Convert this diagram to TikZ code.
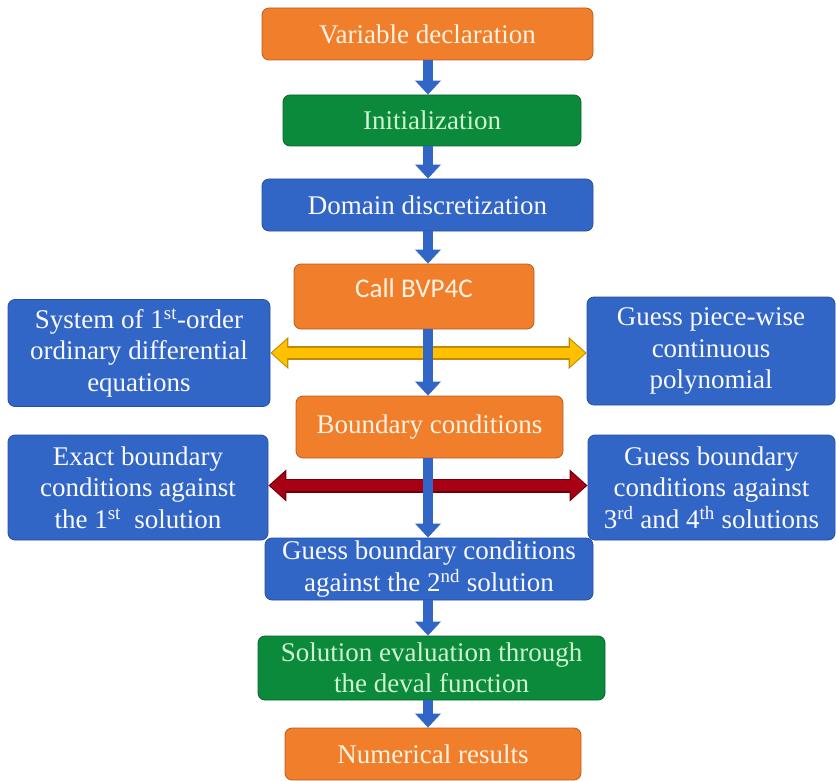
\documentclass[tikz,border=0pt]{standalone}
\usepackage{fontspec}
\setmainfont{Liberation Serif}
\newfontfamily\calfont{Carlito}
\usetikzlibrary{arrows.meta}
\definecolor{orfill}{HTML}{F07E2B}
\definecolor{ordraw}{HTML}{B95E20}
\definecolor{grfill}{HTML}{0C8A3B}
\definecolor{grdraw}{HTML}{07652B}
\definecolor{blfill}{HTML}{3165C6}
\definecolor{bldraw}{HTML}{27509E}
\definecolor{ortext}{HTML}{FFF4E4}
\definecolor{grtext}{HTML}{CFF3D0}
\definecolor{bltext}{HTML}{FAFAFF}
\definecolor{yelfill}{HTML}{FFC000}
\definecolor{yeldraw}{HTML}{C08A00}
\definecolor{redfill}{HTML}{A80014}
\definecolor{reddraw}{HTML}{6E0008}
\begin{document}
\begin{tikzpicture}[x=1pt,y=-1pt,
  box/.style={rounded corners=7pt, line width=0.8pt, align=center, inner sep=1pt,
    font=\fontsize{27}{31.5}\selectfont},
  obox/.style={box, fill=orfill, draw=ordraw, text=ortext},
  gbox/.style={box, fill=grfill, draw=grdraw, text=grtext},
  bbox/.style={box, fill=blfill, draw=bldraw, text=bltext},
  barrow/.style={draw=blfill, line width=10pt, -{Triangle[width=25pt,length=14pt]}},
  dout/.style={line width=14pt, {Triangle[width=31pt,length=18pt]}-{Triangle[width=31pt,length=18pt]}},
  din/.style={line width=10.5pt, shorten <=1.6pt, shorten >=1.6pt,
    {Triangle[width=26pt,length=15pt]}-{Triangle[width=26pt,length=15pt]}}
]
\useasboundingbox (0,0) rectangle (836,781);
\coordinate (ax) at (428,0);

\node[obox, minimum width=331pt, minimum height=52pt] (v1) at (427.5,34) {Variable declaration};
\node[gbox, minimum width=298pt, minimum height=51pt] (v2) at (432,120.5) {Initialization};
\node[bbox, minimum width=331pt, minimum height=52pt] (v3) at (427.5,205) {Domain discretization};
\node[obox, minimum width=240pt, minimum height=65pt, text depth=16pt, font=\calfont\fontsize{27}{31}\selectfont] (v4) at (414,296.5) {Call BVP4C};
\node[bbox, minimum width=262pt, minimum height=107pt] (v5) at (139,353) {System of 1\textsuperscript{st}-order\\ordinary differential\\equations};
\node[bbox, minimum width=248pt, minimum height=108pt] (v6) at (711,351) {Guess piece-wise\\continuous\\polynomial};
\node[obox, minimum width=267pt, minimum height=62pt] (v7) at (429.5,427) {Boundary conditions};
\node[bbox, minimum width=260pt, minimum height=105pt] (v8) at (138,487.5) {Exact boundary\\conditions against\\the 1\textsuperscript{st}\ \ solution};
\node[bbox, minimum width=247pt, minimum height=105pt] (v9) at (711.5,487.5) {Guess boundary\\conditions against\\3\textsuperscript{rd} and 4\textsuperscript{th} solutions};
\node[bbox, minimum width=328pt, minimum height=62pt] (v10) at (429,569) {Guess boundary conditions\\against the 2\textsuperscript{nd} solution};
\node[gbox, minimum width=347pt, minimum height=64pt] (v11) at (431.5,668) {Solution evaluation through\\the deval function};
\node[obox, minimum width=296pt, minimum height=52pt] (v12) at (433,754) {Numerical results};

% horizontal double arrows
\draw[dout, draw=yeldraw, fill=yeldraw] (v5.east) -- (v5.east -| v6.west);
\draw[din, draw=yelfill, fill=yelfill] (v5.east) -- (v5.east -| v6.west);
\draw[dout, draw=reddraw, fill=reddraw] ([yshift=2pt]v8.east) -- ([yshift=2pt]v8.east -| v9.west);
\draw[din, draw=redfill, fill=redfill] ([yshift=2pt]v8.east) -- ([yshift=2pt]v8.east -| v9.west);

% vertical flow arrows
\draw[barrow] (v1.south -| ax) -- (v2.north -| ax);
\draw[barrow] (v2.south -| ax) -- (v3.north -| ax);
\draw[barrow] (v3.south -| ax) -- (v4.north -| ax);
\draw[barrow] (v4.south -| ax) -- (v7.north -| ax);
\draw[barrow] (v7.south -| ax) -- (v10.north -| ax);
\draw[barrow] (v10.south -| ax) -- (v11.north -| ax);
\draw[barrow] (v11.south -| ax) -- (v12.north -| ax);
\end{tikzpicture}
\end{document}
